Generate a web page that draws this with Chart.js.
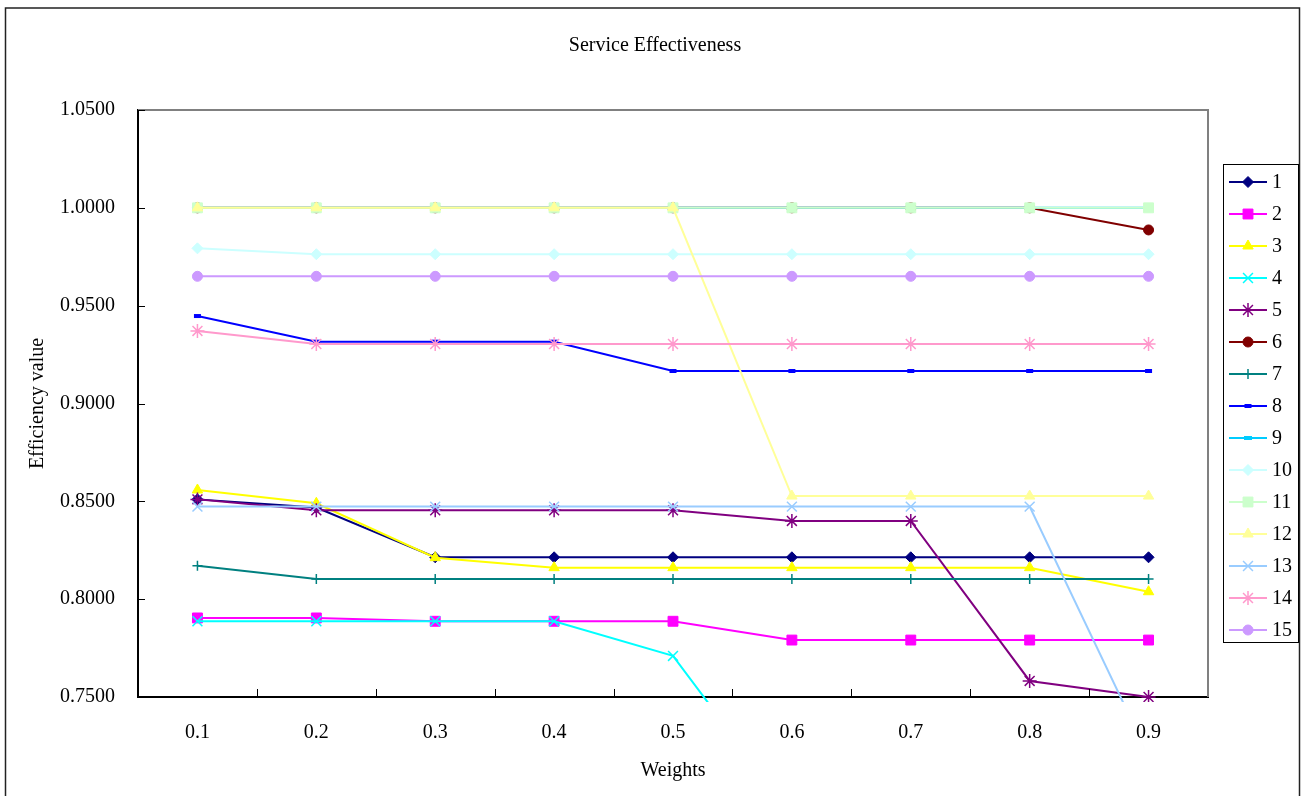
<!DOCTYPE html>
<html>
<head>
<meta charset="utf-8">
<title>Service Effectiveness</title>
<script src="https://cdn.jsdelivr.net/npm/chart.js@4/dist/chart.umd.min.js"></script>
<style>
  html, body { margin: 0; padding: 0; background: #fff; }
  #wrap { width: 1306px; height: 796px; }
</style>
</head>
<body>
<div id="wrap"><canvas id="chart" width="1306" height="796"></canvas></div>
<script>
// Weight settings on the x axis
const weights = ['0.1', '0.2', '0.3', '0.4', '0.5', '0.6', '0.7', '0.8', '0.9'];

// Efficiency value of each unit per weight
const unit1  = [0.8510, 0.8468, 0.8214, 0.8214, 0.8214, 0.8214, 0.8214, 0.8214, 0.8214];
const unit2  = [0.7904, 0.7904, 0.7887, 0.7887, 0.7887, 0.7791, 0.7791, 0.7791, 0.7791];
const unit3  = [0.8558, 0.8490, 0.8212, 0.8161, 0.8161, 0.8161, 0.8161, 0.8161, 0.8038];
const unit4  = [0.7887, 0.7887, 0.7887, 0.7887, 0.7710, 0.6900, 0.6900, 0.6900, 0.6900];
const unit5  = [0.8510, 0.8454, 0.8454, 0.8454, 0.8454, 0.8400, 0.8400, 0.7582, 0.7500];
const unit6  = [1.0000, 1.0000, 1.0000, 1.0000, 1.0000, 1.0000, 1.0000, 1.0000, 0.9887];
const unit7  = [0.8171, 0.8103, 0.8103, 0.8103, 0.8103, 0.8103, 0.8103, 0.8103, 0.8103];
const unit8  = [0.9447, 0.9316, 0.9316, 0.9316, 0.9166, 0.9166, 0.9166, 0.9166, 0.9166];
const unit9  = [1.0000, 1.0000, 1.0000, 1.0000, 1.0000, 1.0000, 1.0000, 1.0000, 1.0000];
const unit10 = [0.9793, 0.9763, 0.9763, 0.9763, 0.9763, 0.9763, 0.9763, 0.9763, 0.9763];
const unit11 = [1.0000, 1.0000, 1.0000, 1.0000, 1.0000, 1.0000, 1.0000, 1.0000, 1.0000];
const unit12 = [1.0000, 1.0000, 1.0000, 1.0000, 1.0000, 0.8527, 0.8527, 0.8527, 0.8527];
const unit13 = [0.8473, 0.8473, 0.8473, 0.8473, 0.8473, 0.8473, 0.8473, 0.8473, 0.7200];
const unit14 = [0.9371, 0.9304, 0.9304, 0.9304, 0.9304, 0.9304, 0.9304, 0.9304, 0.9304];
const unit15 = [0.9650, 0.9650, 0.9650, 0.9650, 0.9650, 0.9650, 0.9650, 0.9650, 0.9650];

const unitNames = ['1', '2', '3', '4', '5', '6', '7', '8', '9', '10', '11', '12', '13', '14', '15'];
const unitValues = [unit1, unit2, unit3, unit4, unit5, unit6, unit7, unit8, unit9,
                    unit10, unit11, unit12, unit13, unit14, unit15];

// Y axis range and step
const yMin = 0.75;
const yMax = 1.05;
const yStep = 0.05;

const chartTitle = 'Service Effectiveness';

// Series styling
const colors = ['#000080', '#FF00FF', '#FFFF00', '#00FFFF', '#800080', '#800000', '#008080',
                '#0000FF', '#00CCFF', '#CCFFFF', '#CCFFCC', '#FFFF99', '#99CCFF', '#FF99CC', '#CC99FF'];
const markers = ['rectRot', 'rect', 'triangle', 'crossRot', 'star', 'circle', 'cross',
                 'line', 'line', 'rectRot', 'rect', 'triangle', 'crossRot', 'star', 'circle'];
const markerRadius = [5.5, 7, 6, 7, 7, 5, 5, 3.5, 4, 5.5, 7, 6, 7, 7, 5];
const markerStroke = [1, 1, 1, 1.5, 1.5, 1, 1.5, 4, 4, 1, 1, 1, 1.5, 1.5, 1];

const serif = 'Liberation Serif, Times New Roman, serif';

// Outer frame, title, plot-area edges, inward ticks and the legend box
const framePlugin = {
  id: 'frame',
  beforeDraw(chart) {
    const ctx = chart.ctx;
    ctx.save();
    ctx.fillStyle = '#fff';
    ctx.fillRect(0, 0, chart.width, chart.height);
    ctx.strokeStyle = '#222';
    ctx.lineWidth = 1.5;
    ctx.strokeRect(5.5, 8, 1294, 800);
    ctx.fillStyle = '#000';
    ctx.font = '20px ' + serif;
    ctx.textAlign = 'center';
    ctx.textBaseline = 'middle';
    ctx.fillText(chartTitle, 655, 46);
    ctx.restore();
  },
  beforeDatasetsDraw(chart) {
    const { ctx, chartArea: a } = chart;
    ctx.save();
    ctx.strokeStyle = '#808080';
    ctx.lineWidth = 2;
    ctx.beginPath();
    ctx.moveTo(a.left, a.top);
    ctx.lineTo(a.right, a.top);
    ctx.lineTo(a.right, a.bottom);
    ctx.stroke();
    ctx.restore();
  },
  afterDraw(chart) {
    const { ctx, chartArea: a, scales } = chart;
    ctx.save();
    ctx.strokeStyle = '#000';
    ctx.lineWidth = 1;
    const xs = scales.x;
    const n = xs.ticks.length;
    for (let i = 0; i < n - 1; i++) {
      const px = Math.round((xs.getPixelForTick(i) + xs.getPixelForTick(i + 1)) / 2) + 0.5;
      ctx.beginPath();
      ctx.moveTo(px, a.bottom);
      ctx.lineTo(px, a.bottom - 8);
      ctx.stroke();
    }
    const ys = scales.y;
    for (let i = 0; i < ys.ticks.length; i++) {
      const py = Math.round(ys.getPixelForTick(i)) + 0.5;
      ctx.beginPath();
      ctx.moveTo(a.left, py);
      ctx.lineTo(a.left + 7, py);
      ctx.stroke();
    }

    const boxL = 1223, boxT = 164, boxR = 1298, boxB = 642;
    ctx.fillStyle = '#fff';
    ctx.fillRect(boxL, boxT, boxR - boxL, boxB - boxT);
    ctx.strokeStyle = '#000';
    ctx.lineWidth = 1;
    ctx.strokeRect(boxL + 0.5, boxT + 0.5, boxR - boxL, boxB - boxT);
    ctx.font = '20px ' + serif;
    ctx.textBaseline = 'middle';
    ctx.textAlign = 'left';
    chart.data.datasets.forEach((ds, i) => {
      const cy = 182 + i * 32;
      ctx.strokeStyle = ds.borderColor;
      ctx.lineWidth = 2;
      ctx.beginPath();
      ctx.moveTo(1229, cy);
      ctx.lineTo(1267, cy);
      ctx.stroke();
      ctx.fillStyle = ds.borderColor;
      ctx.strokeStyle = ds.borderColor;
      ctx.lineWidth = ds.pointBorderWidth;
      Chart.helpers.drawPoint(ctx, {
        pointStyle: ds.pointStyle, radius: ds.pointRadius, rotation: 0, borderWidth: ds.pointBorderWidth
      }, 1248, cy);
      ctx.fillStyle = '#000';
      ctx.fillText(ds.label, 1272, cy + 1);
    });
    ctx.restore();
  }
};

const datasets = unitValues.map((vals, i) => ({
  label: unitNames[i],
  data: vals,
  borderColor: colors[i],
  backgroundColor: colors[i],
  borderWidth: 2,
  tension: 0,
  pointStyle: markers[i],
  pointRadius: markerRadius[i],
  pointHoverRadius: markerRadius[i],
  pointBorderWidth: markerStroke[i],
  pointBackgroundColor: colors[i],
  pointBorderColor: colors[i],
  order: unitValues.length - 1 - i,
  clip: { left: 10, top: 10, right: 10, bottom: 5 }
}));

const tickFont = { family: serif, size: 20, weight: 'normal', lineHeight: 1.2 };

new Chart(document.getElementById('chart'), {
  type: 'line',
  data: { labels: weights, datasets },
  plugins: [framePlugin],
  options: {
    responsive: false,
    animation: false,
    devicePixelRatio: 1,
    events: [],
    layout: { padding: { left: 0, right: 98, top: 110, bottom: 0 } },
    plugins: {
      legend: { display: false },
      tooltip: { enabled: false },
      title: { display: false }
    },
    scales: {
      x: {
        type: 'category',
        offset: true,
        grid: { display: true, drawOnChartArea: false, drawTicks: false, offset: true },
        border: { display: true, color: '#000', width: 2 },
        ticks: { color: '#000', font: tickFont, padding: 24, maxRotation: 0, autoSkip: false },
        title: {
          display: true, text: 'Weights', color: '#000', font: tickFont,
          padding: { top: 0, bottom: 13 }
        },
        afterFit(scale) { scale.height = 99; }
      },
      y: {
        min: yMin,
        max: yMax,
        grid: { display: true, drawOnChartArea: false, drawTicks: false },
        border: { display: true, color: '#000', width: 2 },
        ticks: {
          stepSize: yStep,
          color: '#000',
          font: tickFont,
          padding: 23,
          callback: (v) => Number(v).toFixed(4)
        },
        title: {
          display: true, text: 'Efficiency value', color: '#000', font: tickFont,
          padding: { top: 26, bottom: 0 }
        },
        afterFit(scale) { scale.width = 138; }
      }
    }
  }
});
</script>
</body>
</html>
